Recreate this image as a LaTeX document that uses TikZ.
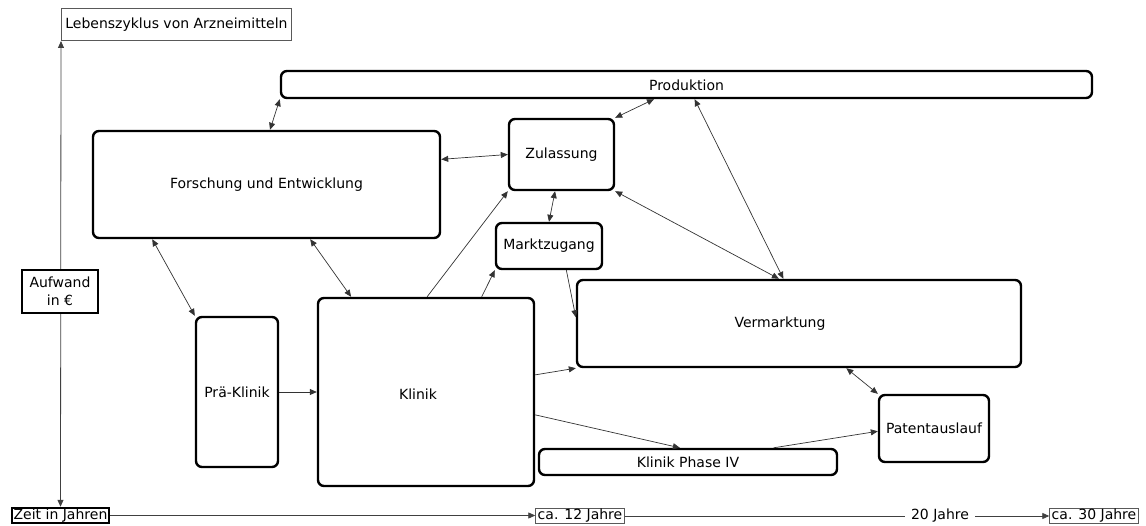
\documentclass[tikz,border=0pt]{standalone}
\usepackage{fontspec}
\setmainfont{DejaVu Sans}
\usetikzlibrary{arrows.meta,calc}
\begin{document}
\begin{tikzpicture}[x=1pt,y=-1pt,
  font=\fontsize{14}{17}\selectfont,
  box/.style={draw=black,line width=2.4pt,rounded corners=6pt,fill=white,inner sep=0pt},
  thinbox/.style={draw=black!65,line width=0.8pt,fill=white,inner xsep=2pt,inner ysep=1pt},
  axisbox/.style={draw=black,line width=2pt,fill=white,inner xsep=2pt,inner ysep=1pt},
  tip/.style={Triangle[length=7pt,width=6pt]},
  link/.style={draw=black!80,line width=0.7pt,-{Triangle[length=7pt,width=6pt]}},
  dlink/.style={draw=black!80,line width=0.7pt,{Triangle[length=7pt,width=6pt]}-{Triangle[length=7pt,width=6pt]}},
  axis/.style={draw=black!75,line width=0.8pt}]
\useasboundingbox (0,0) rectangle (1146,526);

% process boxes
\node[box,minimum width=811pt,minimum height=27pt] (prod) at (686.5,84.5) {};
\node at (686.5,85) {Produktion};
\node[box,minimum width=347pt,minimum height=107pt] (fe) at (266.5,184.5) {Forschung und Entwicklung};
\node[box,minimum width=105pt,minimum height=71pt] (zul) at (561.5,154.5) {Zulassung};
\node[box,minimum width=106pt,minimum height=46pt] (mz) at (549,246) {Marktzugang};
\node[box,minimum width=444pt,minimum height=87pt] (verm) at (799,323.5) {};
\node at (780,323.5) {Vermarktung};
\node[box,minimum width=82pt,minimum height=150pt] (pre) at (237,392) {Prä-Klinik};
\node[box,minimum width=216pt,minimum height=188pt] (kl) at (426,392) {};
\node at (418,394) {Klinik};
\node[box,minimum width=298pt,minimum height=26pt] (kp) at (688,462) {Klinik Phase IV};
\node[box,minimum width=110pt,minimum height=67pt] (pat) at (934,428.5) {Patentauslauf};

% axes
\node[thinbox,anchor=south west,minimum height=32pt,inner xsep=4pt] (lz) at (61,41) {Lebenszyklus von Arzneimitteln};
\node[axisbox] (zeit) at (60.5,515.5) {Zeit in Jahren};
\draw[axis,{Triangle[length=7pt,width=6pt]}-{Triangle[length=7pt,width=6pt]}] (zeit.north) -- (lz.south west);
\node[axisbox,align=center,minimum width=76pt,minimum height=43pt,font=\fontsize{14}{18}\selectfont] (auf) at (60,291.5) {Aufwand\\in €};

\node[thinbox] (c12) at (580,516) {ca. 12 Jahre};
\node[inner xsep=6pt,inner ysep=1pt] (j20) at (940,516) {20 Jahre};
\node[thinbox] (c30) at (1094,516) {ca. 30 Jahre};
\draw[axis,-{Triangle[length=7pt,width=6pt]}] (zeit.east) -- (zeit.east -| c12.west);
\draw[axis] (c12.east) -- (c12.east -| j20.west);
\draw[axis,-{Triangle[length=7pt,width=6pt]}] (j20.east) -- (j20.east -| c30.west);

% connectors
\draw[dlink] ($(fe.north west)!0.51!(fe.north east)$) -- (prod.south west);
\draw[dlink] ($(fe.north east)!0.27!(fe.south east)$) -- (zul.west);
\draw[dlink] (zul.north east) -- ($(prod.south west)!0.46!(prod.south east)$);
\draw[dlink] ($(prod.south west)!0.51!(prod.south east)$) -- ($(verm.north west)!0.465!(verm.north east)$);
\draw[dlink] (zul.south east) -- ($(verm.north west)!0.455!(verm.north east)$);
\draw[dlink] ($(zul.south west)!0.44!(zul.south east)$) -- (mz.north);
\draw[dlink] ($(fe.south west)!0.173!(fe.south east)$) -- (pre.north west);
\draw[dlink] ($(fe.south west)!0.625!(fe.south east)$) -- ($(kl.north west)!0.157!(kl.north east)$);
\draw[link] ($(kl.north west)!0.505!(kl.north east)$) -- (zul.south west);
\draw[link] ($(kl.north west)!0.755!(kl.north east)$) -- (mz.south west);
\draw[link] ($(mz.south west)!0.66!(mz.south east)$) -- ($(verm.north west)!0.43!(verm.south west)$);
\draw[link] (pre.east) -- (pre.east -| kl.west);
\draw[link] ($(kl.north east)!0.41!(kl.south east)$) -- (verm.south west);
\draw[link] ($(kl.north east)!0.62!(kl.south east)$) -- ($(kp.north west)!0.473!(kp.north east)$);
\draw[link] ($(kp.north west)!0.785!(kp.north east)$) -- ($(pat.north west)!0.54!(pat.south west)$);
\draw[dlink] ($(verm.south west)!0.606!(verm.south east)$) -- (pat.north west);
\end{tikzpicture}
\end{document}
